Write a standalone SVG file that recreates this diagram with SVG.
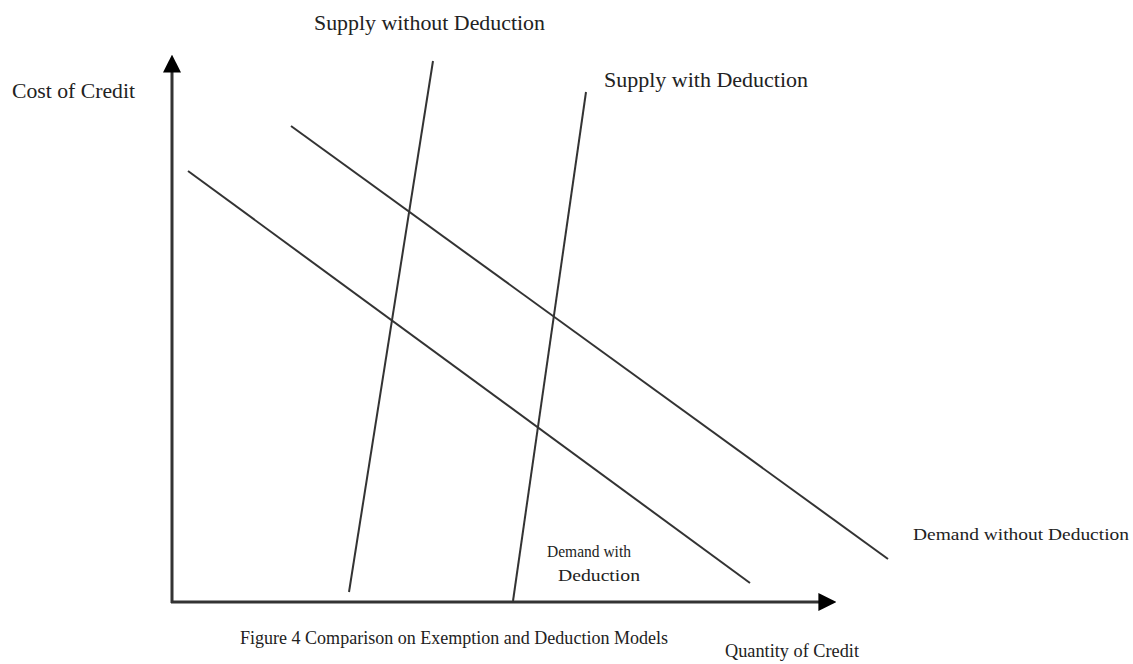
<svg xmlns="http://www.w3.org/2000/svg" width="1133" height="664" viewBox="0 0 1133 664">
<style>
.t{font-family:"Liberation Serif","Times New Roman",serif;fill:#222}
.ax{stroke:#333;stroke-width:3;fill:none}
.ln{stroke:#333;stroke-width:2;fill:none}
</style>
<defs>
<marker id="ah" viewBox="0 0 10 10" refX="2" refY="5" markerWidth="6" markerHeight="6" orient="auto" markerUnits="strokeWidth">
<path d="M0,0 L10,5 L0,10 z" fill="#000"/>
</marker>
</defs>
<rect width="1133" height="664" fill="#fff"/>
<g id="connectors">
<line class="ax" x1="172" y1="603" x2="172" y2="69" marker-end="url(#ah)"/>
<line class="ax" x1="171" y1="602" x2="822" y2="602" marker-end="url(#ah)"/>
<line class="ln" x1="433" y1="61" x2="349" y2="592"/>
<line class="ln" x1="586" y1="92" x2="513" y2="601"/>
<line class="ln" x1="291" y1="126" x2="888" y2="559"/>
<line class="ln" x1="188" y1="171" x2="750" y2="583"/>
</g>
<g id="label-supply-without"><text class="t" x="314" y="30" font-size="21" textLength="231" lengthAdjust="spacingAndGlyphs">Supply without Deduction</text></g>
<g id="label-supply-with"><text class="t" x="604" y="87" font-size="21" textLength="204" lengthAdjust="spacingAndGlyphs">Supply with Deduction</text></g>
<g id="label-cost"><text class="t" x="12" y="98" font-size="21" textLength="123" lengthAdjust="spacingAndGlyphs">Cost of Credit</text></g>
<g id="label-demand-with"><text class="t" x="547" y="557" font-size="17" textLength="84" lengthAdjust="spacingAndGlyphs">Demand with</text><text class="t" x="558" y="581" font-size="17" textLength="82" lengthAdjust="spacingAndGlyphs">Deduction</text></g>
<g id="label-demand-without"><text class="t" x="913" y="540" font-size="17" textLength="216" lengthAdjust="spacingAndGlyphs">Demand without Deduction</text></g>
<g id="caption"><text class="t" x="240" y="644" font-size="19" textLength="428" lengthAdjust="spacingAndGlyphs">Figure 4 Comparison on Exemption and Deduction Models</text></g>
<g id="label-quantity"><text class="t" x="725" y="657" font-size="19" textLength="134" lengthAdjust="spacingAndGlyphs">Quantity of Credit</text></g>
</svg>
